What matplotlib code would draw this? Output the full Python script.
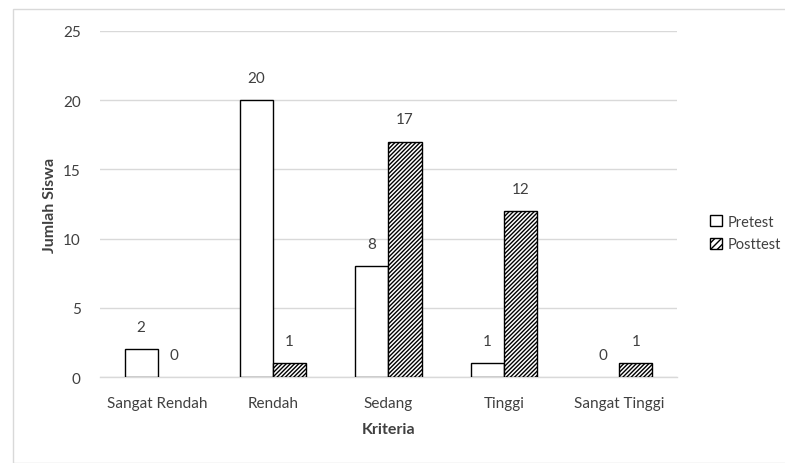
import matplotlib
matplotlib.use("Agg")
import matplotlib.pyplot as plt
import numpy as np
from matplotlib.patches import Rectangle, Patch

categories = ["Sangat Rendah", "Rendah", "Sedang", "Tinggi", "Sangat Tinggi"]
pretest = [2, 20, 8, 1, 0]
posttest = [0, 1, 17, 12, 1]
series_names = ["Pretest", "Posttest"]

plt.rcParams["font.family"] = ["Lato", "DejaVu Sans"]
plt.rcParams["hatch.linewidth"] = 1.0

text_color = "#404040"
grid_color = "#d9d9d9"
hatch = "////////"

fig = plt.figure(figsize=(7.85, 4.64), dpi=100)
fig.patches.append(Rectangle((13 / 785, 0), 1, 1 - 10 / 464, transform=fig.transFigure,
                             fill=False, edgecolor="#d9d9d9", linewidth=1.0))
ax = fig.add_axes([100 / 785, 1 - 378 / 464, 577 / 785, 346 / 464])

x = np.arange(len(categories))
w = 0.287
b1 = ax.bar(x - w / 2, pretest, w, facecolor="white", edgecolor="black", linewidth=1.0,
            zorder=3)
b2 = ax.bar(x + w / 2, posttest, w, facecolor="white", edgecolor="black", linewidth=1.0,
            hatch=hatch, zorder=3)

for bars, vals in ((b1, pretest), (b2, posttest)):
    for rect, v in zip(bars, vals):
        if v == 0:
            rect.set_linewidth(0)
        ax.annotate(str(v), (rect.get_x() + rect.get_width() / 2, v),
                    xytext=(0, 16), textcoords="offset points", ha="center", va="center",
                    fontsize=11, color=text_color)

ax.set_xlim(-0.5, len(categories) - 0.5)
ax.set_ylim(0, 25)
ax.set_yticks([0, 5, 10, 15, 20, 25])
ax.set_xticks(x)
ax.set_xticklabels(categories)
ax.tick_params(axis="both", length=0, labelsize=11, labelcolor=text_color)
ax.tick_params(axis="y", pad=14)
ax.tick_params(axis="x", pad=14)
ax.grid(axis="y", color=grid_color, linewidth=1.0, zorder=0)
for s in ("top", "right", "left"):
    ax.spines[s].set_visible(False)
ax.spines["bottom"].set_color(grid_color)
ax.spines["bottom"].set_linewidth(1.0)

ax.set_xlabel("Kriteria", fontsize=11.5, fontweight="bold", color=text_color, labelpad=8)
ax.set_ylabel("Jumlah Siswa", fontsize=11.5, fontweight="bold", color=text_color, labelpad=4)

handles = [Patch(facecolor="white", edgecolor="black", linewidth=1.0),
           Patch(facecolor="white", edgecolor="black", linewidth=1.0, hatch="/////")]
leg = fig.legend(handles=handles, labels=series_names, loc="center left",
                 bbox_to_anchor=(697 / 785, 1 - 234 / 464), frameon=False,
                 fontsize=10.5, handlelength=0.8, handleheight=0.8, handletextpad=0.4,
                 labelspacing=0.6)
for t in leg.get_texts():
    t.set_color(text_color)

fig.savefig("out.png", dpi=100)
